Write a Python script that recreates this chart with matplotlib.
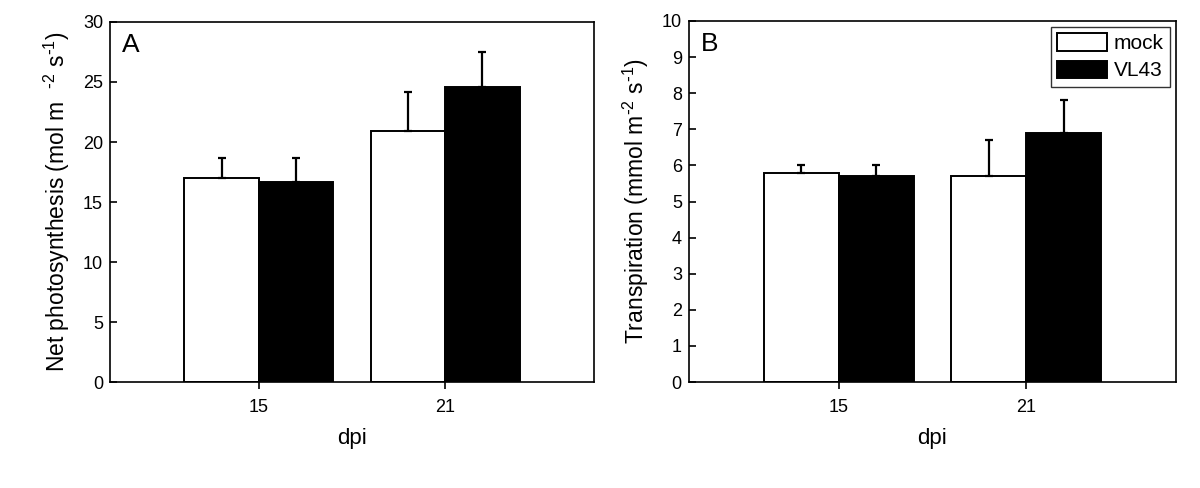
import matplotlib
matplotlib.use("Agg")
import matplotlib.pyplot as plt
import numpy as np

plt.rcParams['font.family'] = ['Liberation Sans', 'DejaVu Sans']
plt.rcParams['mathtext.default'] = 'regular'

dpi_labels = ["15", "21"]
series = ["mock", "VL43"]

photo_mock = [17.0, 20.9]
photo_mock_err = [1.7, 3.3]
photo_vl43 = [16.7, 24.6]
photo_vl43_err = [2.0, 2.9]

trans_mock = [5.8, 5.7]
trans_mock_err = [0.2, 1.0]
trans_vl43 = [5.7, 6.9]
trans_vl43_err = [0.3, 0.9]

fig = plt.figure(figsize=(12, 4.88), dpi=100)
axA = fig.add_axes([0.0917, 0.217, 0.4033, 0.738])
axB = fig.add_axes([0.574, 0.217, 0.406, 0.740])

x = np.arange(len(dpi_labels))
w = 0.4

def panel(ax, m, me, v, ve, ylim, yticks, ylabel, letter, legend=False):
    ek = dict(ecolor='black', elinewidth=1.6, capsize=3, capthick=1.6)
    ax.bar(x - w/2, m, w, color='white', edgecolor='black', linewidth=1.4,
           yerr=[np.zeros(len(me)), me], error_kw=ek, label=series[0], zorder=2)
    ax.bar(x + w/2, v, w, color='black', edgecolor='black', linewidth=1.4,
           yerr=[np.zeros(len(ve)), ve], error_kw=ek, label=series[1], zorder=2)
    ax.set_xlim(-0.8, 1.8)
    ax.set_ylim(*ylim)
    ax.set_yticks(yticks)
    ax.set_xticks(x)
    ax.set_xticklabels(dpi_labels)
    ax.tick_params(axis='y', direction='in', length=5, width=1.2, labelsize=13, pad=5)
    ax.tick_params(axis='x', direction='out', length=5, width=1.2, labelsize=13, pad=7)
    for s in ax.spines.values():
        s.set_linewidth(1.2)
    ax.set_xlabel('dpi', fontsize=16, labelpad=9)
    ax.set_ylabel(ylabel, fontsize=16.5, labelpad=8)
    ax.text(0.025, 0.97, letter, transform=ax.transAxes, fontsize=19,
            ha='left', va='top')
    if legend:
        leg = ax.legend(loc='upper right', fontsize=15, frameon=True, fancybox=False,
                        edgecolor='black', handlelength=2.4, handleheight=0.9,
                        handletextpad=0.3, borderpad=0.3, labelspacing=0.35,
                        borderaxespad=0.3)
        leg.get_frame().set_linewidth(1.0)

panel(axA, photo_mock, photo_mock_err, photo_vl43, photo_vl43_err,
      (0, 30), np.arange(0, 31, 5),
      r'Net photosynthesis (mol m  $^{\text{-}2}$ s$^{\text{-}1}$)', 'A')
panel(axB, trans_mock, trans_mock_err, trans_vl43, trans_vl43_err,
      (0, 10), np.arange(0, 11, 1),
      r'Transpiration (mmol m$^{\text{-}2}$ s$^{\text{-}1}$)', 'B', legend=True)

fig.savefig('out.png', dpi=100)
